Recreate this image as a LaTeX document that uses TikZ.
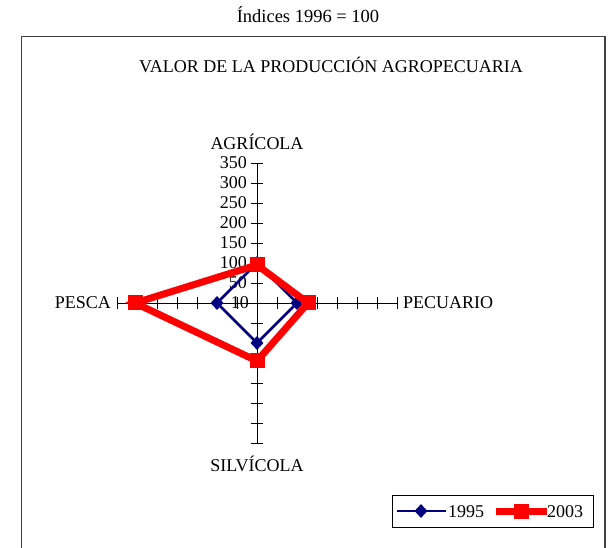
\documentclass[tikz,border=0pt]{standalone}
\usepackage{fontspec}
\setmainfont{Liberation Serif}
\usetikzlibrary{shapes.geometric}
\definecolor{navyb}{RGB}{0,0,128}
\definecolor{redl}{RGB}{255,0,0}
\begin{document}
\begin{tikzpicture}[x=1pt,y=-1pt,
  lbl/.style={font=\fontsize{18}{18}\selectfont, inner sep=0pt},
  axisline/.style={draw=black, line width=0.9pt},
  s95/.style={draw=navyb, line width=2.5pt, line join=miter},
  s03/.style={draw=redl, line width=7pt, line join=miter},
  dmark/.style={diamond, fill=navyb, inner sep=0pt, minimum width=13pt, minimum height=14pt},
  smark/.style={rectangle, fill=redl, inner sep=0pt, minimum size=15pt}]
\useasboundingbox (0,0) rectangle (614,548);
\fill[white] (0,0) rectangle (614,548);
% titles
\node[lbl, font=\fontsize{18.5}{19}\selectfont] (idx) at (308,15) {Índices 1996 = 100};
\draw[line width=1.3pt, draw=black!75] (21.5,560) -- (21.5,36.5) -- (605,36.5) -- (605,560);
\node[lbl, font=\fontsize{18}{18}\selectfont] (ttl) at (331,65) {VALOR DE LA PRODUCCIÓN AGROPECUARIA};
% axes
\coordinate (c) at (257,303);
\coordinate (ytop) at (257,163);
\coordinate (ybot) at (257,443);
\coordinate (xl) at (117,303);
\coordinate (xr) at (397,303);
\draw[axisline] (ytop) -- (ybot);
\draw[axisline] (xl) -- (xr);
\foreach \i in {1,...,7}{
  \draw[axisline] (251,303-20*\i) -- (263,303-20*\i);
  \draw[axisline] (251,303+20*\i) -- (263,303+20*\i);
  \draw[axisline] (257+20*\i,297) -- (257+20*\i,309);
  \draw[axisline] (257-20*\i,297) -- (257-20*\i,309);
}
\foreach \v/\k in {350/7,300/6,250/5,200/4,150/3,100/2,50/1}{
  \node[lbl, anchor=east] (t\v) at (247,303-20*\k) {\v};
}
\node[lbl, anchor=east] (t10) at (249,303) {10};
\node[lbl] (agr) at (257,142) {AGRÍCOLA};
\node[lbl] (sil) at (257,464) {SILVÍCOLA};
\node[lbl, anchor=east] (pes) at (111,303) {PESCA};
\node[lbl, anchor=west] (pec) at (403,303) {PECUARIO};
% 1995 series
\coordinate (a95) at (257,263);
\coordinate (p95) at (297,303);
\coordinate (s95) at (257,343);
\coordinate (f95) at (217,303);
\draw[s95] (a95) -- (p95) -- (s95) -- (f95) -- cycle;
\foreach \p in {a95,p95,s95,f95}{\node[dmark] at (\p) {};}
% 2003 series
\coordinate (a03) at (257,265);
\coordinate (p03) at (308,303);
\coordinate (s03) at (257,361);
\coordinate (f03) at (135,303);
\draw[s03] (a03) -- (p03) -- (s03) -- (f03) -- cycle;
\foreach \p in {a03,p03,s03,f03}{\node[smark] at (\p) {};}
% legend
\node[draw=black, line width=0.9pt, minimum width=201pt, minimum height=32pt, inner sep=0pt] (leg) at (492.5,511) {};
\coordinate (l1a) at (397,511);
\coordinate (l1b) at (446,511);
\draw[s95] (l1a) -- (l1b);
\node[dmark] (m95) at (421,511) {};
\node[lbl, anchor=west] (y95) at (448,512) {1995};
\coordinate (l2a) at (496,511);
\coordinate (l2b) at (547,511);
\draw[s03] (l2a) -- (l2b);
\node[smark] (m03) at (521,511) {};
\node[lbl, anchor=west] (y03) at (547,512) {2003};
\end{tikzpicture}
\end{document}
